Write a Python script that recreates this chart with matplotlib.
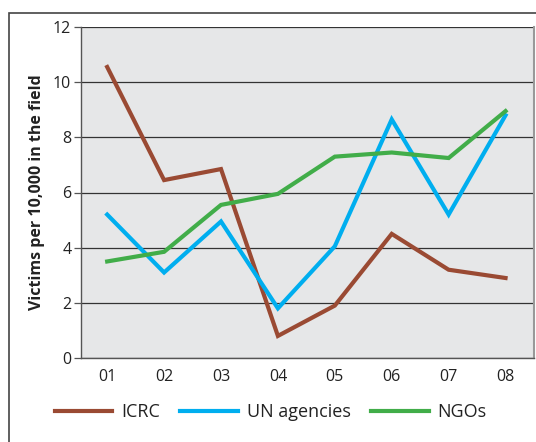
import matplotlib
matplotlib.use('Agg')
import matplotlib.pyplot as plt
from matplotlib.patches import Rectangle

years = ['01', '02', '03', '04', '05', '06', '07', '08']
icrc = [10.55, 6.45, 6.85, 0.8, 1.9, 4.5, 3.2, 2.9]
un_agencies = [5.2, 3.1, 4.95, 1.8, 4.05, 8.65, 5.2, 8.8]
ngos = [3.5, 3.85, 5.55, 5.95, 7.3, 7.45, 7.25, 8.95]

plt.rcParams['font.family'] = ['Open Sans', 'DejaVu Sans']

fig = plt.figure(figsize=(5.36, 4.42), dpi=100)
ax = fig.add_axes([81 / 536, 1 - 358 / 442, 453 / 536, 331 / 442])

# outer frame, only left and top edges fall inside the picture
fig.patches.append(Rectangle((9 / 536, -0.1), 1.0, 1.1 - 13 / 442,
                             transform=fig.transFigure, fill=False,
                             edgecolor='#444444', linewidth=1.2))

ax.set_facecolor('#e6e7e8')
x = list(range(1, len(years) + 1))
ax.plot(x, icrc, color='#9a4a33', lw=3, label='ICRC', solid_joinstyle='miter')
ax.plot(x, un_agencies, color='#00aeef', lw=3, label='UN agencies', solid_joinstyle='miter')
ax.plot(x, ngos, color='#41ad49', lw=3, label='NGOs', solid_joinstyle='miter')

ax.set_xlim(0.54, 8.5)
ax.set_ylim(0, 12)
ax.set_yticks(range(0, 13, 2))
ax.set_xticks(x)
ax.set_xticklabels(years)
ax.yaxis.grid(True, color='#333333', lw=0.9)
ax.set_axisbelow(True)
ax.tick_params(axis='y', length=5, width=0.9, color='#555555', labelsize=11.5,
               labelcolor='#222222', pad=2)
ax.tick_params(axis='x', length=0, labelsize=11.5, labelcolor='#222222', pad=8)
for side in ['left', 'bottom']:
    ax.spines[side].set_color('#555555')
    ax.spines[side].set_linewidth(1.0)
ax.spines['top'].set_visible(False)
ax.spines['right'].set_color('#999999')
ax.spines['right'].set_linewidth(1.5)

ax.set_ylabel('Victims per 10,000 in the field', fontsize=11.5, fontweight='bold',
              color='#222222', labelpad=6)

fig.legend(loc='center', bbox_to_anchor=(0.505, 1 - 412 / 442), ncol=3,
           frameon=False, fontsize=13, handlelength=3.2, columnspacing=1.1,
           handletextpad=0.5, labelcolor='#222222')

fig.savefig('out.png', dpi=100)
